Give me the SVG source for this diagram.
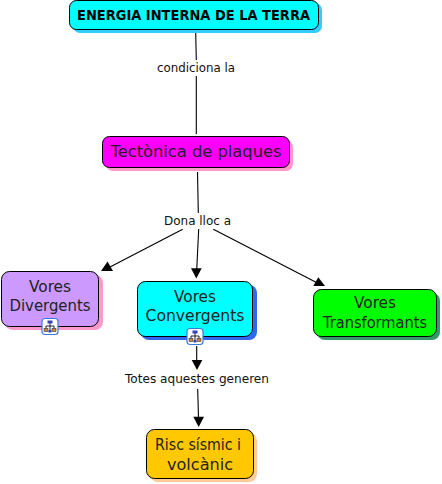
<svg xmlns="http://www.w3.org/2000/svg" width="442" height="484" viewBox="0 0 442 484">
<style>
text{font-family:"DejaVu Sans",Verdana,sans-serif;fill:#000;text-anchor:middle}
.n{font-size:16px;fill:#222}
.l{font-size:12px;fill:#111}
.b{stroke:#000;stroke-width:1}
.c{fill:none;stroke:#000;stroke-width:1.1}
.a{fill:#000}
</style>
<defs>
<g id="icon">
<rect x="0.5" y="0.5" width="16" height="16" rx="3" fill="#fff" stroke="#3a78d8" stroke-width="1.2"/>
<path d="M8.5 5V8M4.5 11V8H12.5V11M8.5 8V12" fill="none" stroke="#223" stroke-width="1"/>
<rect x="6" y="2.500" width="5" height="3" fill="#3344bb"/>
<rect x="2.500" y="10.500" width="4" height="3" fill="#cc8833" stroke="#223" stroke-width=".5"/>
<rect x="10.500" y="10.500" width="4" height="3" fill="#cc8833" stroke="#223" stroke-width=".5"/>
<rect x="7" y="12" width="3" height="2.500" fill="#3344bb"/>
</g>
</defs>
<g id="connectors">
<path class="c" d="M195.700 33L196.300 60M196.300 76V134"/>
<path class="c" d="M197.500 172L198.300 213"/>
<path class="c" d="M182.700 229.300L110 267"/>
<path class="c" d="M198.700 229L196.700 270"/>
<path class="c" d="M213.300 229.300L317 282.700"/>
<path class="c" d="M196.700 346V361"/>
<path class="c" d="M197.700 389L198.500 418"/>
<polygon class="a" points="101,271 107.500,261.500 113,271"/>
<polygon class="a" points="196.300,278.500 191,268.300 201.700,268.300"/>
<polygon class="a" points="325,286 313.300,286 318.300,277.300"/>
<polygon class="a" points="197,370 191.700,360 202.300,360"/>
<polygon class="a" points="198.700,427 193.300,416.700 204,416.700"/>
<text class="l" x="196" y="72" textLength="78" lengthAdjust="spacingAndGlyphs">condiciona la</text>
<text class="l" x="197.500" y="225" textLength="67" lengthAdjust="spacingAndGlyphs">Dona lloc a</text>
<text class="l" x="197" y="383" textLength="144" lengthAdjust="spacingAndGlyphs">Totes aquestes generen</text>
</g>
<g id="energia">
<rect x="73" y="3" width="249" height="30" rx="7" fill="#33ccff"/>
<rect class="b" x="69.500" y="0.500" width="249" height="29" rx="7" fill="#00ffff"/>
<text x="193.500" y="20" font-size="14.500" font-weight="bold" textLength="233" lengthAdjust="spacingAndGlyphs">ENERGIA INTERNA DE LA TERRA</text>
</g>
<g id="tectonica">
<rect x="106" y="140" width="187" height="31" rx="7" fill="#ff99cc"/>
<rect class="b" x="102.500" y="136.500" width="187" height="31" rx="7" fill="#ff00ff"/>
<text class="n" x="196" y="157" textLength="171" lengthAdjust="spacingAndGlyphs">Tectònica de plaques</text>
</g>
<g id="divergents">
<rect x="5" y="275" width="98" height="55" rx="8" fill="#ff99cc"/>
<rect class="b" x="1.500" y="271.500" width="97" height="55" rx="8" fill="#cc99ff"/>
<text class="n" x="50" y="292" textLength="42" lengthAdjust="spacingAndGlyphs">Vores</text>
<text class="n" x="50" y="311" textLength="81" lengthAdjust="spacingAndGlyphs">Divergents</text>
<use href="#icon" x="41.500" y="318"/>
</g>
<g id="convergents">
<rect x="141" y="285" width="116" height="55" rx="8" fill="#3366ee"/>
<rect class="b" x="137.500" y="281.500" width="115" height="55" rx="8" fill="#00ffff"/>
<text class="n" x="195" y="302" textLength="42" lengthAdjust="spacingAndGlyphs">Vores</text>
<text class="n" x="195" y="321" textLength="99" lengthAdjust="spacingAndGlyphs">Convergents</text>
<use href="#icon" x="186.500" y="328"/>
</g>
<g id="transformants">
<rect x="317" y="293" width="123" height="47" rx="8" fill="#339966"/>
<rect class="b" x="313.500" y="289.500" width="123" height="47" rx="8" fill="#00ff00"/>
<text class="n" x="375" y="308" textLength="42" lengthAdjust="spacingAndGlyphs">Vores</text>
<text class="n" x="375" y="328" textLength="104" lengthAdjust="spacingAndGlyphs">Transformants</text>
</g>
<g id="risc">
<rect x="150" y="433" width="107" height="49" rx="8" fill="#ffcc99"/>
<rect class="b" x="146.500" y="429.500" width="107" height="49" rx="8" fill="#ffc800"/>
<text class="n" x="198" y="450" textLength="86" lengthAdjust="spacingAndGlyphs">Risc sísmic i</text>
<text class="n" x="200" y="470" textLength="66" lengthAdjust="spacingAndGlyphs">volcànic</text>
</g>
</svg>
